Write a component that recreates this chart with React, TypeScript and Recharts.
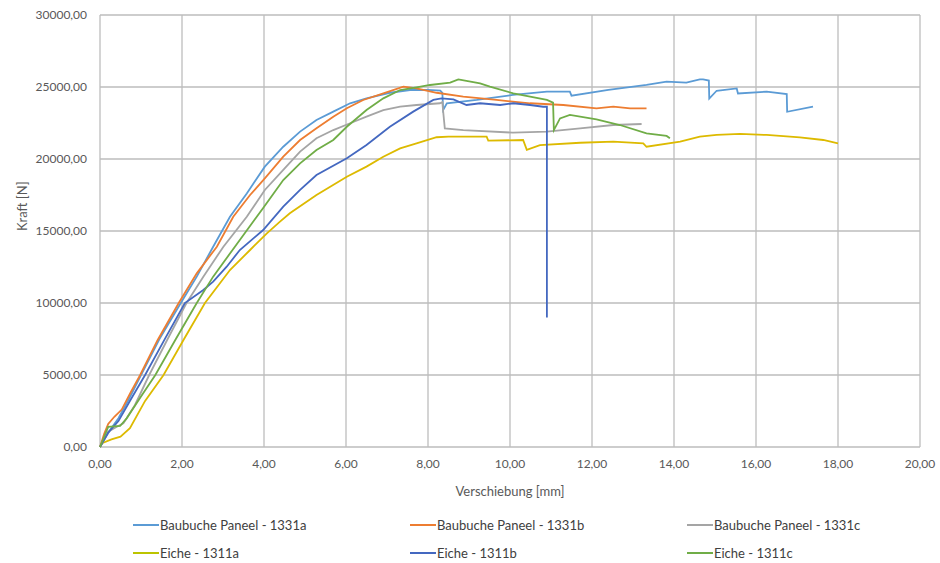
import React from "react";
import {
  LineChart,
  Line,
  XAxis,
  YAxis,
  CartesianGrid,
} from "recharts";

// Verschiebung [mm] / Kraft [N] pairs
const baubucheA_x = [0, 0.1, 0.25, 0.45, 0.7, 1.0, 1.45, 1.97, 2.36, 2.76, 3.17, 3.58, 4.02, 4.47, 4.88, 5.28, 5.69, 6.1, 6.5, 7.07, 7.56, 8.0, 8.3, 8.35, 8.37, 8.46, 9.19, 10.07, 10.9, 11.46, 11.5, 12.4, 13.33, 13.82, 14.3, 14.63, 14.71, 14.85, 14.86, 15.04, 15.53, 15.56, 16.26, 16.75, 16.76, 17.39];
const baubucheA_y = [0, 500, 1200, 2000, 3300, 5000, 7500, 10000, 11830, 13910, 15990, 17610, 19470, 20850, 21900, 22710, 23290, 23870, 24210, 24600, 24790, 24800, 24750, 24600, 23400, 23870, 24100, 24450, 24680, 24680, 24400, 24800, 25140, 25370, 25300, 25530, 25530, 25450, 24200, 24740, 24900, 24550, 24680, 24510, 23280, 23630];

const baubucheB_x = [0, 0.1, 0.2, 0.35, 0.53, 0.75, 0.98, 1.4, 1.92, 2.36, 2.85, 3.25, 3.66, 4.02, 4.47, 4.88, 5.28, 5.69, 6.02, 6.42, 6.91, 7.4, 7.72, 8.21, 8.86, 9.67, 10.49, 11.3, 12.11, 12.52, 12.93, 13.33];
const baubucheB_y = [0, 900, 1600, 2100, 2600, 3800, 5000, 7400, 10000, 12060, 13910, 15990, 17500, 18660, 20160, 21320, 22130, 22940, 23520, 24100, 24560, 25020, 24910, 24600, 24330, 24100, 23870, 23750, 23520, 23630, 23520, 23520];

const baubucheC_x = [0, 0.2, 0.41, 0.57, 0.85, 1.2, 1.65, 2.11, 2.52, 3.01, 3.58, 4.02, 4.47, 4.88, 5.28, 5.69, 6.1, 6.5, 6.91, 7.32, 7.72, 8.29, 8.35, 8.37, 8.41, 8.86, 10.07, 10.9, 11.71, 12.52, 13.21];
const baubucheC_y = [0, 1060, 1410, 1640, 2900, 5000, 7500, 10000, 11830, 13910, 15990, 17850, 19240, 20510, 21440, 22010, 22480, 22940, 23400, 23630, 23750, 23870, 23950, 23300, 22130, 22010, 21830, 21900, 22130, 22360, 22430];

const eicheA_x = [0, 0.05, 0.28, 0.5, 0.73, 1.1, 1.55, 2.05, 2.56, 3.17, 3.66, 4.07, 4.39, 4.63, 5.28, 6.02, 6.5, 6.91, 7.32, 7.72, 8.21, 8.5, 9.43, 9.47, 10.32, 10.41, 10.73, 11.71, 12.52, 13.25, 13.33, 14.15, 14.63, 15.04, 15.61, 16.26, 17.07, 17.64, 18.0];
const eicheA_y = [0, 260, 530, 720, 1300, 3200, 5000, 7500, 10000, 12290, 13680, 14840, 15650, 16230, 17500, 18770, 19470, 20160, 20740, 21090, 21510, 21550, 21550, 21270, 21320, 20630, 20970, 21130, 21200, 21090, 20850, 21200, 21550, 21670, 21740, 21670, 21500, 21320, 21090];

const eicheB_x = [0, 0.2, 0.45, 0.75, 1.1, 1.6, 2.07, 2.52, 2.76, 3.09, 3.41, 3.98, 4.47, 4.88, 5.28, 6.02, 6.5, 7.07, 7.64, 8.13, 8.33, 8.62, 8.94, 9.27, 9.76, 10.08, 10.49, 10.81, 10.9, 10.9];
const eicheB_y = [0, 1000, 1800, 3300, 5000, 7600, 10000, 10900, 11480, 12520, 13680, 15070, 16690, 17850, 18890, 20050, 20970, 22240, 23290, 24100, 24210, 24140, 23750, 23870, 23750, 23870, 23750, 23630, 23630, 9000];

const eicheC_x = [0, 0.2, 0.49, 0.65, 1.0, 1.35, 1.85, 2.36, 2.76, 3.41, 3.98, 4.47, 4.88, 5.28, 5.69, 6.02, 6.5, 6.91, 7.32, 7.72, 8.05, 8.54, 8.74, 9.27, 9.51, 10.08, 10.9, 11.05, 11.07, 11.22, 11.46, 12.11, 12.68, 13.33, 13.82, 13.9];
const eicheC_y = [0, 1400, 1460, 1990, 3500, 5000, 7500, 10000, 11830, 14380, 16600, 18540, 19700, 20630, 21320, 22240, 23400, 24210, 24790, 24980, 25140, 25300, 25530, 25250, 25020, 24560, 24100, 23910, 22010, 22820, 23060, 22750, 22360, 21780, 21600, 21440];

const xTicks = [0, 2, 4, 6, 8, 10, 12, 14, 16, 18, 20];
const yTicks = [0, 5000, 10000, 15000, 20000, 25000, 30000];

const toPoints = (xs: number[], ys: number[]) => xs.map((x, i) => ({ x, y: ys[i] }));

const series = [
  { name: "Baubuche Paneel - 1331a", data: toPoints(baubucheA_x, baubucheA_y), color: "#5B9BD5", legend: "#5B9BD5" },
  { name: "Baubuche Paneel - 1331b", data: toPoints(baubucheB_x, baubucheB_y), color: "#ED7D31", legend: "#ED7D31" },
  { name: "Baubuche Paneel - 1331c", data: toPoints(baubucheC_x, baubucheC_y), color: "#A5A5A5", legend: "#A5A5A5" },
  { name: "Eiche - 1311a", data: toPoints(eicheA_x, eicheA_y), color: "#DDBA00", legend: "#BCC400" },
  { name: "Eiche - 1311b", data: toPoints(eicheB_x, eicheB_y), color: "#4468C0", legend: "#4468C0" },
  { name: "Eiche - 1311c", data: toPoints(eicheC_x, eicheC_y), color: "#70AD47", legend: "#70AD47" },
];

const fmt = (v: number) => v.toFixed(2).replace(".", ",");
const font = "Lato, 'Open Sans', sans-serif";
const textColor = "#595959";

export default function App() {
  return (
    <div style={{ position: "absolute", left: 0, top: 0, width: 940, height: 563, background: "#fff", fontFamily: font }}>
      <LineChart width={940} height={500} margin={{ top: 15, right: 20, left: 0, bottom: 0 }}>
        <CartesianGrid stroke="#BDBDBD" strokeWidth={1.3} />
        <XAxis
          type="number"
          dataKey="x"
          domain={[0, 20]}
          ticks={xTicks}
          tickFormatter={fmt}
          tickLine={false}
          axisLine={false}
          tickSize={6}
          tickMargin={6}
          height={53}
          tick={{ fill: textColor, fontSize: 12, fontFamily: font }}
          label={{ value: "Verschiebung [mm]", position: "insideBottom", offset: 4, fill: textColor, fontSize: 13, fontFamily: font }}
        />
        <YAxis
          type="number"
          domain={[0, 30000]}
          ticks={yTicks}
          tickFormatter={fmt}
          tickLine={false}
          axisLine={false}
          tickSize={6}
          tickMargin={7}
          width={100}
          tick={{ fill: textColor, fontSize: 12, fontFamily: font }}
          label={{ value: "Kraft [N]", angle: -90, position: "insideLeft", offset: 22, fill: textColor, fontSize: 13, fontFamily: font }}
        />
        {series.map((s) => (
          <Line
            key={s.name}
            data={s.data}
            dataKey="y"
            name={s.name}
            type="linear"
            stroke={s.color}
            strokeWidth={1.8}
            dot={false}
            isAnimationActive={false}
          />
        ))}
      </LineChart>
      {series.map((s, i) => {
        const col = i % 3;
        const row = Math.floor(i / 3);
        return (
          <div
            key={s.name}
            style={{
              position: "absolute",
              left: 133 + col * 277,
              top: 517 + row * 28,
              display: "flex",
              alignItems: "center",
              fontSize: 13,
              color: "#404040",
              whiteSpace: "nowrap",
            }}
          >
            <span style={{ display: "inline-block", width: 26, height: 2, background: s.legend, marginRight: 1 }} />
            {s.name}
          </div>
        );
      })}
    </div>
  );
}
